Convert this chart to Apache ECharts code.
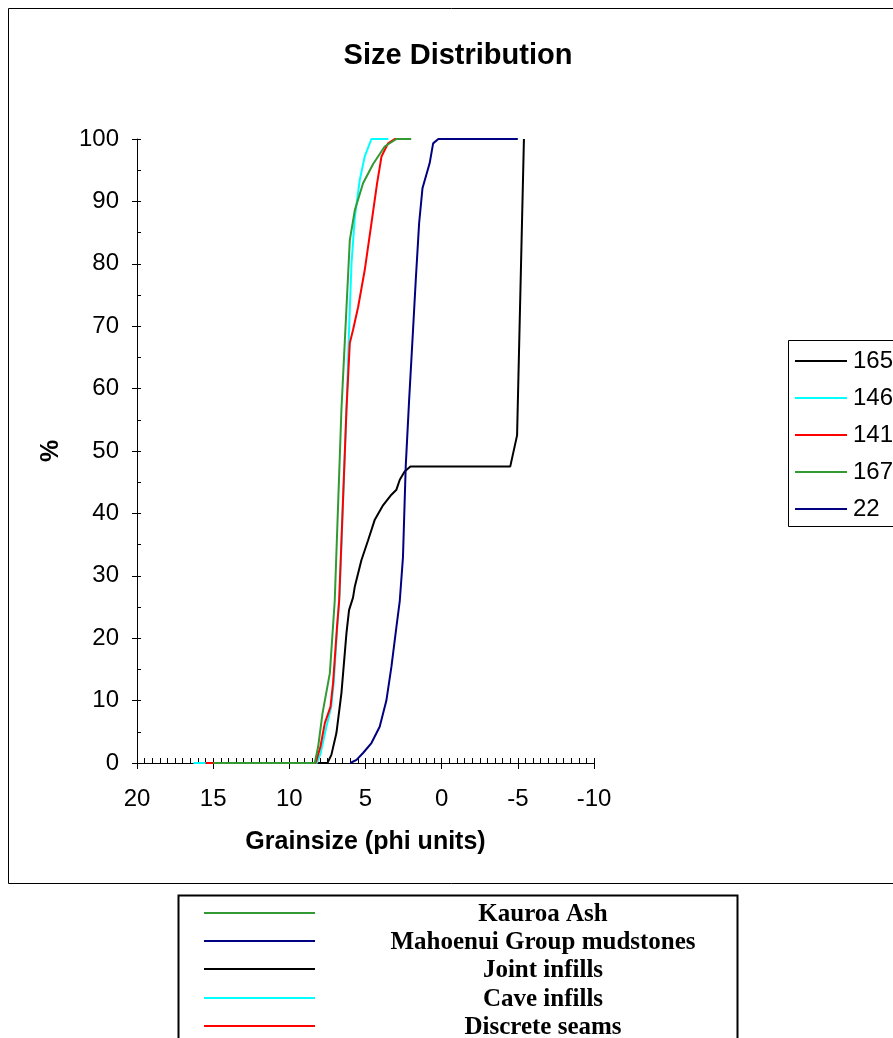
<!DOCTYPE html>
<html>
<head>
<meta charset="utf-8">
<script src="https://cdn.jsdelivr.net/npm/echarts@6/dist/echarts.min.js"></script>
<style>
  html, body { margin: 0; padding: 0; background: #fff; }
  #chart { width: 893px; height: 1038px; }
</style>
</head>
<body>
<div id="chart"></div>
<script>
// Cumulative grain size curves: [phi, cumulative %]
const sampleNames = ['165', '146', '141', '167', '22'];
const sampleColors = ['#000000', '#00ffff', '#ff0000', '#339933', '#000080'];

const s165 = [[8.2,0],[7.5,0],[7.24,1.3],[6.91,4.8],[6.58,11.2],[6.25,20.8],[6.08,24.5],[5.82,26.5],[5.70,28.3],[5.27,32.5],[4.83,35.7],[4.39,39],[3.85,41.3],[3.30,43],[2.97,43.8],[2.75,45.4],[2.43,46.7],[2.05,47.5],[-4.5,47.5],[-4.95,52.5],[-5.4,100]];
const s146 = [[16.3,0],[8.2,0],[7.95,1.5],[7.6,5.5],[7.25,9],[7.08,13],[6.85,22],[6.7,27],[6.25,56.6],[6.08,69.4],[5.92,80],[5.70,87.5],[5.38,93.4],[5.05,97.2],[4.61,100],[3.5,100]];
const s141 = [[15.5,0],[8.27,0],[7.96,2.6],[7.67,6.4],[7.30,9],[7.13,12.8],[6.87,21.8],[6.73,26],[6.25,56.6],[6.03,67.3],[5.82,69.4],[5.49,73],[5.05,79],[4.61,86.5],[4.24,92.9],[3.95,97.2],[3.52,99.3],[3.08,100],[3.0,100]];
const s167 = [[15,0],[8.33,0],[8.11,2.6],[7.82,8],[7.34,14.4],[7.02,26],[6.58,56.6],[6.03,83.8],[5.70,88.6],[5.16,92.9],[4.5,96],[3.74,98.8],[2.97,100],[2.0,100]];
const s22 = [[6.0,0],[5.59,0.5],[5.16,1.6],[4.61,3.2],[4.07,5.8],[3.63,10],[3.30,15.4],[2.97,21.8],[2.75,26],[2.54,33],[2.36,47.5],[2.14,58],[1.88,69.4],[1.70,77.4],[1.48,86.5],[1.26,92.1],[0.79,96.1],[0.56,99.3],[0.22,100],[-5.0,100]];
const sampleData = [s165, s146, s141, s167, s22];

// Material groups shown in the key below the chart
const groupNames = ['Kauroa Ash', 'Mahoenui Group mudstones', 'Joint infills', 'Cave infills', 'Discrete seams'];
const groupColors = ['#339933', '#000080', '#000000', '#00ffff', '#ff0000'];

// Axis ranges
const phiMin = -10, phiMax = 20, phiStep = 5;
const pctMin = 0, pctMax = 100, pctStep = 10;

const SANS = '"Liberation Sans", Arial, sans-serif';
const SERIF = '"Liberation Serif", "Times New Roman", serif';

const gridRect = { left: 137, top: 139, width: 457, height: 624 };

function baseX(gridIndex) {
  return {
    gridIndex, type: 'value', min: phiMin, max: phiMax, interval: phiStep, inverse: true,
    splitLine: { show: false }
  };
}
function baseY(gridIndex) {
  return {
    gridIndex, type: 'value', min: pctMin, max: pctMax, interval: pctStep,
    splitLine: { show: false }
  };
}

const chart = echarts.init(document.getElementById('chart'));

const graphic = [
  { type: 'rect', shape: { x: 8.5, y: 8.5, width: 900, height: 875 },
    style: { fill: 'none', stroke: '#000', lineWidth: 1 }, silent: true, z: -10 },
  { type: 'rect', shape: { x: 788.5, y: 340.5, width: 120, height: 186 },
    style: { fill: '#fff', stroke: '#000', lineWidth: 1 }, silent: true, z: -5 },
  { type: 'rect', shape: { x: 178.5, y: 895.5, width: 559, height: 200 },
    style: { fill: '#fff', stroke: '#000', lineWidth: 2 }, silent: true }
];
const rowY = [913, 941, 969, 998, 1026];
groupNames.forEach((name, i) => {
  graphic.push({ type: 'line', shape: { x1: 204, y1: rowY[i], x2: 315, y2: rowY[i] },
    style: { stroke: groupColors[i], lineWidth: 2 }, silent: true });
  graphic.push({ type: 'text', x: 543, y: rowY[i] + 2,
    style: { text: name, font: 'bold 25px ' + SERIF, fill: '#000',
      align: 'center', verticalAlign: 'middle', textAlign: 'center', textVerticalAlign: 'middle' },
    silent: true });
});

chart.setOption({
  animation: false,
  backgroundColor: '#fff',
  title: {
    text: 'Size Distribution', left: 453, top: 36, textAlign: 'center',
    textStyle: { fontFamily: SANS, fontSize: 29, fontWeight: 'bold', color: '#000' }
  },
  legend: {
    orient: 'vertical', left: 795, top: 349, padding: 0,
    icon: 'rect', itemWidth: 52, itemHeight: 2, itemGap: 13,
    data: sampleNames,
    textStyle: { fontFamily: SANS, fontSize: 24, color: '#000', padding: [0, 0, 0, 1] }
  },
  grid: [
    Object.assign({ containLabel: false }, gridRect),
    Object.assign({ containLabel: false }, gridRect)
  ],
  xAxis: [
    Object.assign(baseX(0), {
      axisLine: { onZero: false, lineStyle: { color: '#000', width: 1 } },
      axisTick: { inside: true, length: 5, lineStyle: { color: '#000' } },
      minorTick: { show: true, splitNumber: 10, length: 5, lineStyle: { color: '#000' } },
      axisLabel: { fontFamily: SANS, fontSize: 24, color: '#000', margin: 24 },
      name: 'Grainsize (phi units)', nameLocation: 'middle', nameGap: 67,
      nameTextStyle: { fontFamily: SANS, fontSize: 25, fontWeight: 'bold', color: '#000' }
    }),
    Object.assign(baseX(1), {
      axisLine: { show: false, onZero: false },
      axisTick: { inside: false, length: 6, lineStyle: { color: '#000' } },
      axisLabel: { show: false }
    })
  ],
  yAxis: [
    Object.assign(baseY(0), {
      axisLine: { onZero: false, lineStyle: { color: '#000', width: 1 } },
      axisTick: { inside: true, length: 4, lineStyle: { color: '#000' } },
      minorTick: { show: true, splitNumber: 2, length: 4, lineStyle: { color: '#000' } },
      axisLabel: { fontFamily: SANS, fontSize: 24, color: '#000', margin: 18 },
      name: '%', nameLocation: 'middle', nameGap: 73, nameRotate: 90,
      nameTextStyle: { fontFamily: SANS, fontSize: 25, fontWeight: 'bold', color: '#000' }
    }),
    Object.assign(baseY(1), {
      axisLine: { show: false, onZero: false },
      axisTick: { inside: false, length: 5, lineStyle: { color: '#000' } },
      axisLabel: { show: false }
    })
  ],
  series: sampleNames.map((name, i) => ({
    name, type: 'line', xAxisIndex: 0, yAxisIndex: 0,
    data: sampleData[i], symbol: 'none', smooth: false,
    lineStyle: { color: sampleColors[i], width: 2 },
    itemStyle: { color: sampleColors[i] }
  })),
  graphic
});
</script>
</body>
</html>
